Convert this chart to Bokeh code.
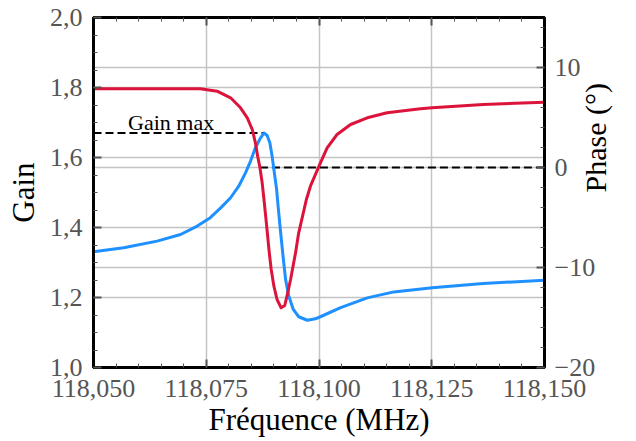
import numpy as np
from bokeh.plotting import figure
from bokeh.models import (LinearAxis, Range1d, FixedTicker, CustomJSTickFormatter,
                          Grid, Label)
from bokeh.embed import file_html
from bokeh.resources import INLINE

# ---- data ----
freq_gain = [118.0500, 118.0567, 118.0641, 118.0693, 118.0730, 118.0759, 118.0782,
             118.0804, 118.0822, 118.0837, 118.0848, 118.0859, 118.0869, 118.0878,
             118.0885, 118.0891, 118.0896, 118.0901, 118.0906, 118.0910, 118.0915,
             118.0921, 118.0926, 118.0933, 118.0943, 118.0955, 118.0974, 118.0992,
             118.1003, 118.1048, 118.1107, 118.1166, 118.1251, 118.1364, 118.1500]
gain = [1.331, 1.342, 1.361, 1.380, 1.404, 1.428, 1.456, 1.485, 1.518, 1.556,
        1.589, 1.628, 1.653, 1.670, 1.663, 1.642, 1.604, 1.556, 1.509, 1.451,
        1.385, 1.309, 1.251, 1.204, 1.166, 1.145, 1.135, 1.139, 1.145, 1.171,
        1.199, 1.216, 1.228, 1.240, 1.249]

freq_phase = [118.0500, 118.0626, 118.0737, 118.0774, 118.0804, 118.0826, 118.0841,
              118.0852, 118.0859, 118.0864, 118.0869, 118.0874, 118.0878, 118.0884,
              118.0889, 118.0894, 118.0900, 118.0907, 118.0916, 118.0924, 118.0929,
              118.0937, 118.0948, 118.0955, 118.0972, 118.0981, 118.1000, 118.1018,
              118.1040, 118.1070, 118.1107, 118.1151, 118.1225, 118.1251, 118.1364,
              118.1500]
phase = [7.87, 7.87, 7.87, 7.63, 6.97, 5.97, 4.97, 3.8, 2.47, 1.13,
         0.0, -1.53, -3.2, -5.87, -8.2, -10.2, -11.87, -13.2, -14.03, -13.8,
         -12.87, -11.2, -8.53, -6.53, -3.2, -1.87, 0.13, 1.97, 3.3, 4.3,
         4.97, 5.47, 5.87, 5.97, 6.3, 6.53]

gain_max_freq = [118.0500, 118.0878]
gain_max_val = [1.670, 1.670]
phase_zero_freq = [118.0869, 118.1500]
phase_zero_val = [0.0, 0.0]

freq_ticks = [118.050, 118.075, 118.100, 118.125, 118.150]
gain_ticks = [1.0, 1.2, 1.4, 1.6, 1.8, 2.0]
phase_ticks = [-20, -10, 0, 10]

FONT = "Liberation Serif"
TICK_GRAY = "#555555"
GRID_GRAY = "#c4c4c4"

W, H = 634, 439
BL, BT = 93, 17
BR, BB = W - 544, H - 368

p = figure(width=W, height=H, output_backend="svg", toolbar_location=None,
           x_range=Range1d(118.050, 118.150), y_range=Range1d(1.0, 2.0),
           x_axis_type=None, y_axis_type=None,
           min_border_left=BL, min_border_right=BR, min_border_top=BT,
           min_border_bottom=BB)
p.extra_y_ranges = {"phase": Range1d(-20, 15)}
p.outline_line_color = "black"
p.outline_line_width = 3
p.background_fill_color = "white"
p.border_fill_color = "white"

fticker = FixedTicker(ticks=freq_ticks,
                      minor_ticks=list(np.round(np.arange(118.050, 118.1501, 0.005), 3)))
gticker = FixedTicker(ticks=gain_ticks,
                      minor_ticks=list(np.round(np.arange(1.0, 2.0001, 0.05), 2)))
pticker = FixedTicker(ticks=phase_ticks,
                      minor_ticks=list(range(-20, 16, 2)))


def style(ax):
    ax.major_tick_in = 8
    ax.major_tick_out = 0
    ax.minor_tick_in = 4
    ax.minor_tick_out = 0
    ax.major_tick_line_color = TICK_GRAY
    ax.major_tick_line_width = 2
    ax.minor_tick_line_color = TICK_GRAY
    ax.minor_tick_line_width = 1
    ax.axis_line_color = "black"
    ax.axis_line_width = 3
    ax.major_label_text_font = FONT
    ax.major_label_text_font_size = "26px"
    ax.major_label_text_color = TICK_GRAY
    ax.axis_label_text_font = FONT
    ax.axis_label_text_font_size = "31px"
    ax.axis_label_text_font_style = "normal"
    ax.axis_label_text_color = "black"


xaxis = LinearAxis(ticker=fticker, axis_label="Fréquence (MHz)",
                   formatter=CustomJSTickFormatter(code="return tick.toFixed(3).replace('.', ',');"))
style(xaxis)
xaxis.major_label_standoff = 12
xaxis.axis_label_standoff = 2
p.add_layout(xaxis, "below")

topaxis = LinearAxis(ticker=fticker,
                     formatter=CustomJSTickFormatter(code="return '';"))
style(topaxis)
topaxis.major_label_standoff = 0
topaxis.major_label_text_font_size = "0px"
p.add_layout(topaxis, "above")

yaxis = LinearAxis(ticker=gticker, axis_label="Gain",
                   formatter=CustomJSTickFormatter(code="return tick.toFixed(1).replace('.', ',');"))
style(yaxis)
yaxis.major_label_standoff = 11
yaxis.axis_label_standoff = 6
p.add_layout(yaxis, "left")

raxis = LinearAxis(ticker=pticker, y_range_name="phase",
                   formatter=CustomJSTickFormatter(
                       code="return tick < 0 ? '\u2212' + Math.abs(tick).toFixed(0) : tick.toFixed(0);"))
style(raxis)
raxis.major_label_standoff = 10
p.add_layout(raxis, "right")

# outer right axis that only carries the title; its bounds centre the
# bottom-to-top title on the frame
rtitle = LinearAxis(ticker=FixedTicker(ticks=[]), y_range_name="phase",
                    axis_label="Phase (°)", bounds=(-20, 4))
style(rtitle)
rtitle.axis_label_text_font_size = "30px"
rtitle.axis_line_color = None
rtitle.major_tick_line_color = None
rtitle.minor_tick_line_color = None
rtitle.major_label_text_font_size = "0px"
rtitle.major_label_standoff = 0
rtitle.axis_label_standoff = -3
if hasattr(rtitle, "axis_label_orientation"):
    rtitle.axis_label_orientation = np.pi / 2
p.add_layout(rtitle, "right")

for g in [Grid(dimension=0, ticker=fticker),
          Grid(dimension=1, ticker=gticker),
          Grid(dimension=1, ticker=pticker, y_range_name="phase")]:
    g.grid_line_color = GRID_GRAY
    g.grid_line_width = 1.5
    p.add_layout(g)

p.line(gain_max_freq, gain_max_val, line_color="black", line_width=2, line_dash="8 4")
p.line(phase_zero_freq, phase_zero_val, line_color="black", line_width=2, line_dash="8 4",
       y_range_name="phase")

p.line(freq_gain, gain, line_color="#1e90ff", line_width=3, line_join="round")
p.line(freq_phase, phase, line_color="#dc143c", line_width=3, line_join="round",
       y_range_name="phase")

p.add_layout(Label(x=118.0672, y=1.70, text="Gain max", text_align="center",
                   text_baseline="alphabetic", text_font=FONT, text_font_size="22px",
                   text_color="black"))

open("out.html", "w").write(file_html(p, INLINE))
